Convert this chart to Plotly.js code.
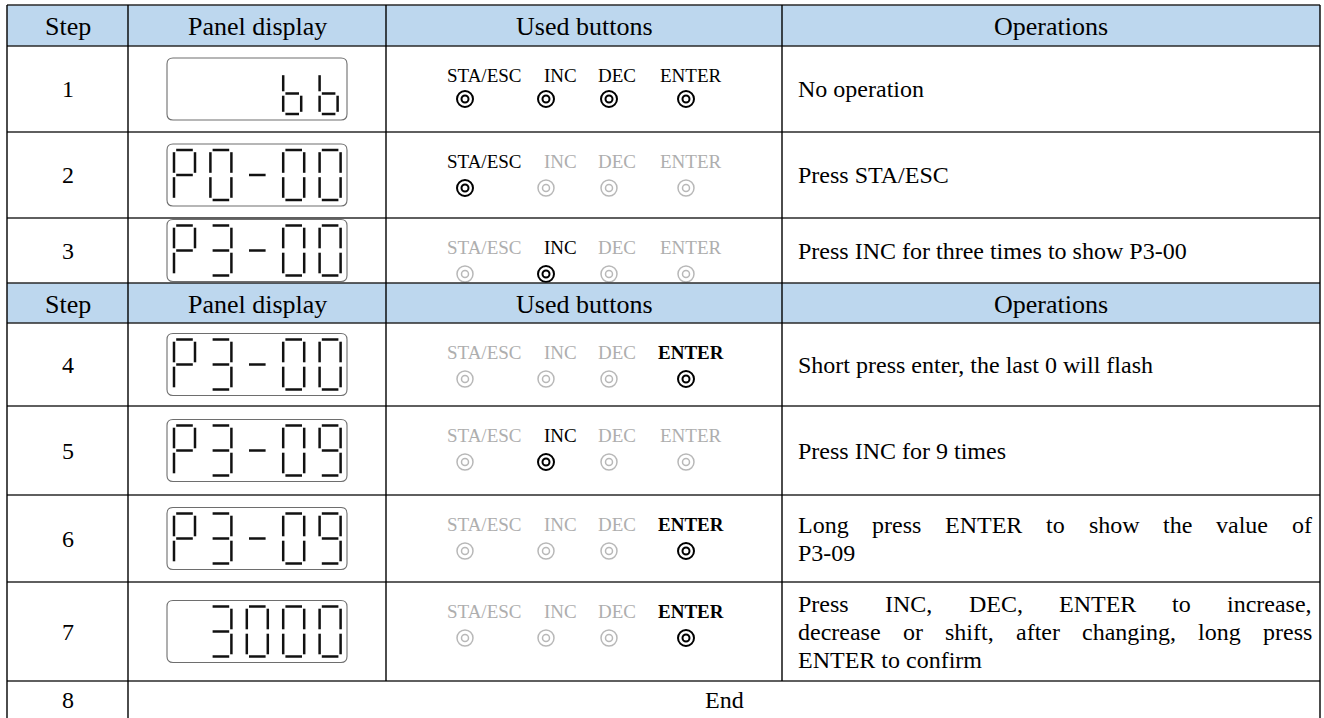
<!DOCTYPE html>
<html><head><meta charset="utf-8">
<script src="https://cdn.plot.ly/plotly-3.0.1.min.js"></script>
<style>html,body{margin:0;padding:0;background:#fff;overflow:hidden}#chart{width:1324px;height:718px}</style>
</head><body><div id="chart"></div>
<script>
// ---------------- data ----------------
const headers = ['Step', 'Panel display', 'Used buttons', 'Operations'];
const steps = ['1', '2', '3', '4', '5', '6', '7', '8'];
const panelDisplays = ['   bb', 'P0-00', 'P3-00', 'P3-00', 'P3-09', 'P3-09', ' 3000'];
const buttonNames = ['STA/ESC', 'INC', 'DEC', 'ENTER'];
const activeButtons = [[0, 1, 2, 3], [0], [1], [3], [1], [3], [3]];
const boldActive = [false, false, false, true, false, true, true];
const operations = [
  ['No operation'],
  ['Press STA/ESC'],
  ['Press INC for three times to show P3-00'],
  ['Short press enter, the last 0 will flash'],
  ['Press INC for 9 times'],
  ['Long press ENTER to show the value of', 'P3-09'],
  ['Press INC, DEC, ENTER to increase,', 'decrease or shift, after changing, long press', 'ENTER to confirm']
];
const justifiedLines = [[], [], [], [], [], [true, false], [true, true, false]];
const endText = 'End';

// seven-segment glyph table (a top, b upper right, c lower right, d bottom, e lower left, f upper left, g middle)
const SEGMENTS = {'0': 'abcdef', '3': 'abcdg', '9': 'abcdfg', 'P': 'abefg', 'b': 'cdefg', '-': 'g', ' ': ''};

// ---------------- layout geometry ----------------
const W = 1324, H = 718;
const colX = [7, 128, 386, 782, 1320];
const rowY = [5, 46, 132, 218, 283, 323, 406, 495, 582, 681, 722];
const headerBands = [0, 4];
const stepBands = [1, 2, 3, 5, 6, 7, 8, 9];
const SERIF = 'Liberation Serif, Times New Roman, serif';
const BODY = 24, HEAD = 26, LABEL = 19;
const LINE_H = 28;
const labelX = [484, 560, 617, 691];
const circleX = [465, 546, 609, 686];
const textLeft = 797, textRight = 1311;
const GRAY = '#aeaeae', INK = '#111111';

const shapes = [];
const annotations = [];

function ann(x, y, text, opt) {
  annotations.push(Object.assign({
    x: x, y: y, xref: 'x', yref: 'y', text: text, showarrow: false,
    xanchor: 'center', yanchor: 'middle', borderpad: 0,
    font: {family: SERIF, size: BODY, color: '#000'}
  }, opt || {}));
}
function line(x0, y0, x1, y1, color, w) {
  shapes.push({type: 'line', xref: 'x', yref: 'y', x0: x0, y0: y0, x1: x1, y1: y1,
    line: {color: color, width: w}, layer: 'above'});
}

// header fills
headerBands.forEach(b => {
  shapes.push({type: 'rect', xref: 'x', yref: 'y', x0: colX[0], x1: colX[4], y0: rowY[b], y1: rowY[b + 1],
    fillcolor: '#BDD7EE', line: {width: 0}, layer: 'below'});
  headers.forEach((h, i) => ann((colX[i] + colX[i + 1]) / 2, (rowY[b] + rowY[b + 1]) / 2 + 1, h,
    {font: {family: SERIF, size: HEAD, color: '#000'}}));
});

// grid lines
for (let r = 0; r < rowY.length - 1; r++) line(colX[0], rowY[r], colX[4], rowY[r], '#2a2a2a', 1.3);
[0, 1, 4].forEach(c => line(colX[c], rowY[0], colX[c], H + 5, '#000', 1.4));
[2, 3].forEach(c => line(colX[c], rowY[0], colX[c], rowY[9], '#000', 1.4));

// step numbers
stepBands.forEach((b, i) => {
  const yc = b === 9 ? 700 : (rowY[b] + rowY[b + 1]) / 2;
  ann((colX[0] + colX[1]) / 2, yc, steps[i]);
});
ann((colX[1] + colX[4]) / 2, 700, endText);

// rounded rect path
function rrect(x0, y0, x1, y1, r) {
  return `M${x0 + r},${y0} L${x1 - r},${y0} Q${x1},${y0} ${x1},${y0 + r} L${x1},${y1 - r} Q${x1},${y1} ${x1 - r},${y1} ` +
    `L${x0 + r},${y1} Q${x0},${y1} ${x0},${y1 - r} L${x0},${y0 + r} Q${x0},${y0} ${x0 + r},${y0} Z`;
}

// panel displays
const BOX_L = 167, BOX_R = 347, BOX_H = 62;
const DIG_W = 21, DIG_PITCH = 36.4, DIG_IN = 7, DIG_V = 6, SEG_W = 2.5, GAP = 2.2;
panelDisplays.forEach((str, i) => {
  const b = stepBands[i];
  const yc = (rowY[b] + rowY[b + 1]) / 2;
  const top = yc - BOX_H / 2, bot = yc + BOX_H / 2;
  shapes.push({type: 'path', xref: 'x', yref: 'y', path: rrect(BOX_L, top, BOX_R, bot, 6),
    line: {color: '#6e6e6e', width: 1.1}, fillcolor: 'rgba(0,0,0,0)', layer: 'above'});
  const small = i === 0 ? 3 : 0;
  const dt = top + DIG_V + small * 3, db = bot - DIG_V, dm = (dt + db) / 2;
  str.split('').forEach((ch, k) => {
    const segs = SEGMENTS[ch] || '';
    const x0 = BOX_L + DIG_IN + k * DIG_PITCH, x1 = x0 + DIG_W - small;
    for (const s of segs) {
      if (s === 'a') line(x0 + GAP, dt, x1 - GAP, dt, INK, SEG_W);
      if (s === 'g') line(x0 + GAP, dm, x1 - GAP, dm, INK, SEG_W);
      if (s === 'd') line(x0 + GAP, db, x1 - GAP, db, INK, SEG_W);
      if (s === 'f') line(x0, dt + GAP, x0, dm - GAP, INK, SEG_W);
      if (s === 'b') line(x1, dt + GAP, x1, dm - GAP, INK, SEG_W);
      if (s === 'e') line(x0, dm + GAP, x0, db - GAP, INK, SEG_W);
      if (s === 'c') line(x1, dm + GAP, x1, db - GAP, INK, SEG_W);
    }
  });
});

// buttons
const cx = [], cy = [], ccol = [], cw = [];
activeButtons.forEach((act, i) => {
  const b = stepBands[i];
  const top = rowY[b];
  buttonNames.forEach((name, k) => {
    const on = act.indexOf(k) >= 0;
    const bold = on && boldActive[i];
    ann(labelX[k], top + 29, bold ? '<b>' + name + '</b>' : name,
      {font: {family: SERIF, size: LABEL, color: on ? '#000' : GRAY}});
    cx.push(circleX[k]); cy.push(top + (i === 0 ? 53 : 56));
    ccol.push(on ? '#000' : '#b8b8b8'); cw.push(on ? 2 : 1.5);
  });
});

// operations text (with justification measured via canvas)
const cvs = document.createElement('canvas').getContext('2d');
cvs.font = BODY + 'px Liberation Serif';
operations.forEach((lines, i) => {
  const b = stepBands[i];
  const yc = (rowY[b] + rowY[b + 1]) / 2;
  const n = lines.length;
  lines.forEach((txt, j) => {
    const y = yc + (j - (n - 1) / 2) * LINE_H;
    const just = justifiedLines[i][j];
    if (!just) {
      ann(textLeft, y, txt, {xanchor: 'left'});
    } else {
      const words = txt.split(' ');
      const widths = words.map(w => cvs.measureText(w).width);
      const total = widths.reduce((a, c) => a + c, 0);
      const gap = (textRight - textLeft - total) / (words.length - 1);
      let x = textLeft;
      words.forEach((w, k) => { ann(x, y, w, {xanchor: 'left'}); x += widths[k] + gap; });
    }
  });
});

const traces = [
  {x: cx, y: cy, type: 'scatter', mode: 'markers', hoverinfo: 'skip',
   marker: {symbol: 'circle-open', size: 16, color: ccol, line: {color: ccol, width: cw}}},
  {x: cx, y: cy, type: 'scatter', mode: 'markers', hoverinfo: 'skip',
   marker: {symbol: 'circle-open', size: 7, color: ccol, line: {color: ccol, width: cw}}}
];

const layout = {
  width: W, height: H, margin: {l: 0, r: 0, t: 0, b: 0, pad: 0},
  paper_bgcolor: '#fff', plot_bgcolor: '#fff', showlegend: false,
  font: {family: SERIF},
  xaxis: {range: [0, W], visible: false, fixedrange: true},
  yaxis: {range: [H, 0], visible: false, fixedrange: true},
  shapes: shapes, annotations: annotations
};
Plotly.newPlot('chart', traces, layout, {staticPlot: true, displayModeBar: false});
</script></body></html>
